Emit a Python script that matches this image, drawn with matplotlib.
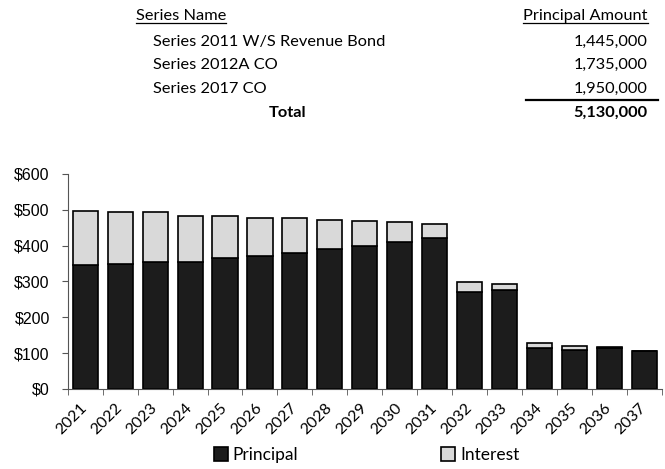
import matplotlib.pyplot as plt
import numpy as np

years = [str(y) for y in range(2021, 2038)]
principal = [345, 350, 355, 355, 365, 370, 380, 390, 400, 410, 420, 270, 275, 115, 110, 115, 105]
interest = [153, 144, 140, 129, 118, 107, 96, 82, 68, 56, 41, 28, 19, 13, 10, 3, 2]

series_names = ["Series 2011 W/S Revenue Bond", "Series 2012A CO", "Series 2017 CO"]
series_amounts = ["1,445,000", "1,735,000", "1,950,000"]
total_amount = "5,130,000"

fig = plt.figure(figsize=(6.65, 4.69), dpi=100)
ax = fig.add_axes([0.102, 0.1706, 0.893, 0.4584])

x = np.arange(len(years))
ax.bar(x, principal, width=0.72, color="#1c1c1c", edgecolor="black", linewidth=1.2, label="Principal")
ax.bar(x, interest, width=0.72, bottom=principal, color="#d9d9d9", edgecolor="black",
       linewidth=1.2, label="Interest")

ax.set_xlim(-0.5, len(years) - 0.5)
ax.set_ylim(0, 600)
ax.set_yticks(range(0, 601, 100))
ax.set_yticklabels(["$%d" % v for v in range(0, 601, 100)], fontsize=11.5, family="Liberation Sans")
ax.set_xticks(x)
ax.set_xticklabels(years, rotation=45, ha="right", va="center", rotation_mode="anchor",
                   fontsize=11.5, family="Lato")
ax.set_xticks(np.arange(-0.5, len(years), 1), minor=True)
ax.tick_params(axis="x", which="major", length=0, pad=12)
ax.tick_params(axis="x", which="minor", length=4, direction="out", color="#555555")
ax.tick_params(axis="y", length=4, direction="out", color="#555555", pad=9)
for s in ["top", "right"]:
    ax.spines[s].set_visible(False)
for s in ["left", "bottom"]:
    ax.spines[s].set_color("#555555")

fig.legend(loc="center", bbox_to_anchor=(0.551, 0.030), ncol=2, frameon=False,
           prop={"family": "Lato", "size": 12.5}, handlelength=0.8, handleheight=0.8,
           handletextpad=0.3, columnspacing=8.2)

# summary table above the chart
tf = dict(family="Lato", fontsize=11.8)
h1 = fig.text(0.2045, 0.966, "Series Name", ha="left", va="center", **tf)
h2 = fig.text(0.974, 0.966, "Principal Amount", ha="right", va="center", **tf)
row_y = [0.911, 0.862, 0.811]
for yy, name, amt in zip(row_y, series_names, series_amounts):
    fig.text(0.23, yy, name, ha="left", va="center", **tf)
    fig.text(0.974, yy, amt, ha="right", va="center", **tf)
fig.add_artist(plt.Line2D([0.791, 0.989], [0.787, 0.787], color="black", lw=1.6))
fig.text(0.433, 0.759, "Total", ha="center", va="center", weight="bold", **tf)
fig.text(0.974, 0.759, total_amount, ha="right", va="center", weight="bold", **tf)

# underline the headers
fig.canvas.draw()
r = fig.canvas.get_renderer()
for h in (h1, h2):
    bb = h.get_window_extent(r).transformed(fig.transFigure.inverted())
    fig.add_artist(plt.Line2D([bb.x0, bb.x1], [0.950, 0.950], color="black", lw=0.9))

fig.savefig("out.png", dpi=100)
